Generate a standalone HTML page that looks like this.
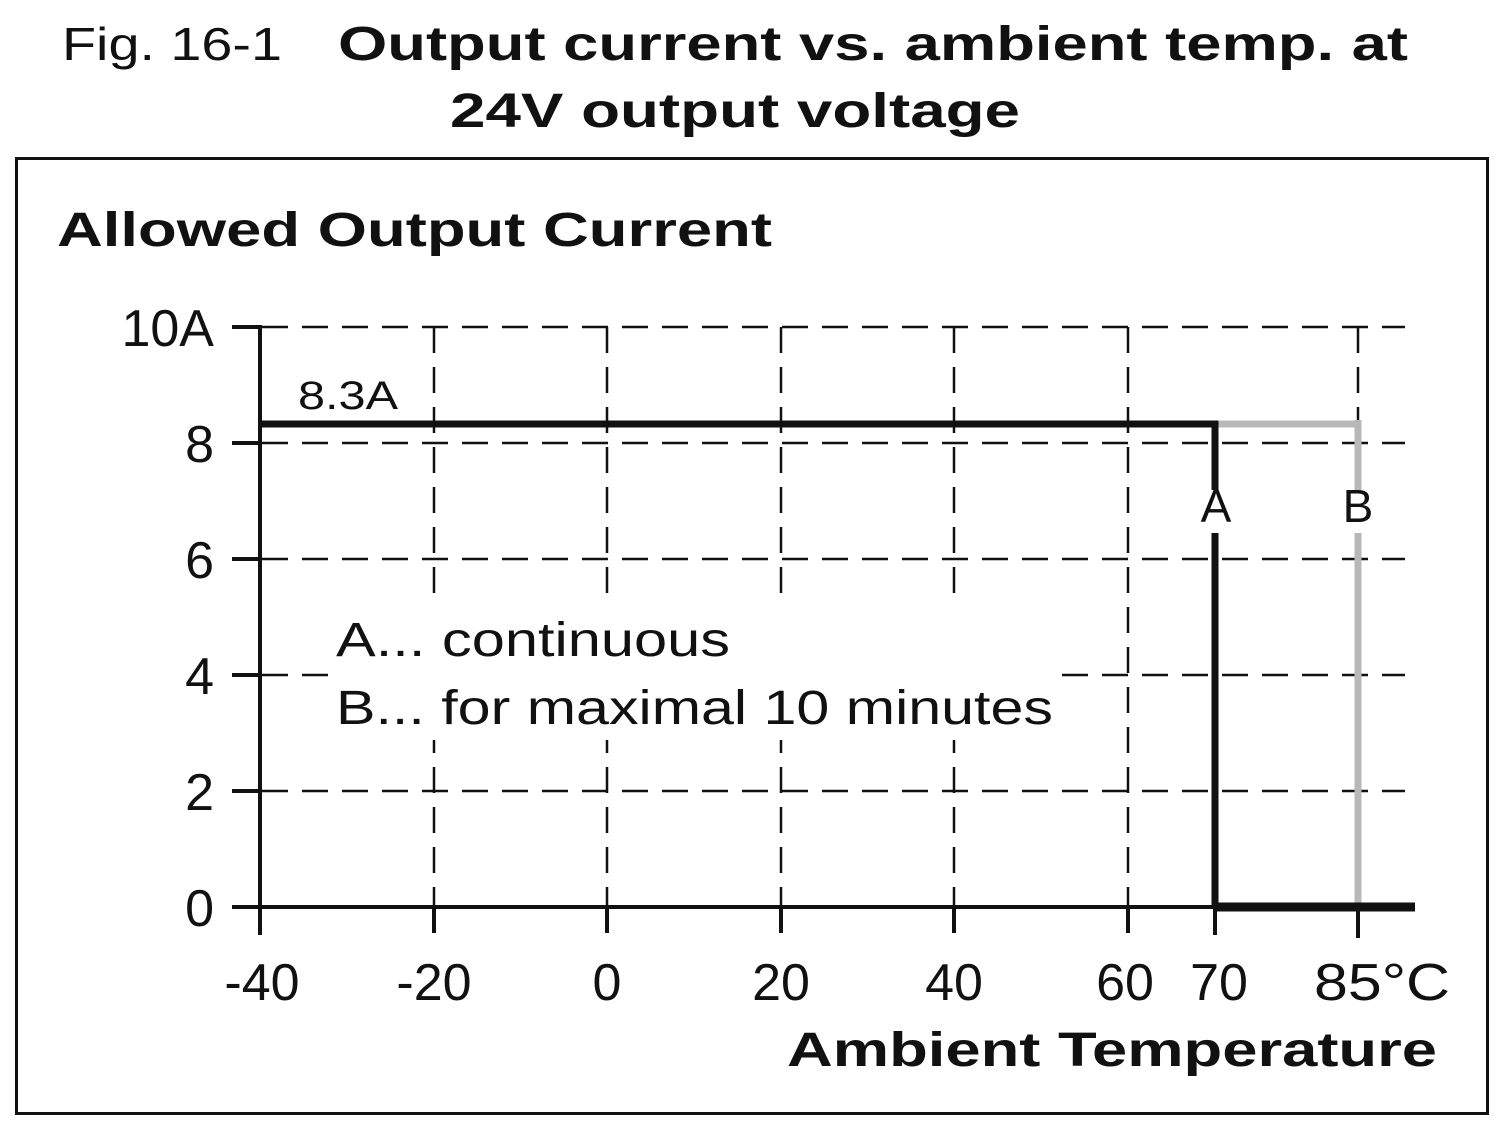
<!DOCTYPE html>
<html><head><meta charset="utf-8"><style>
html,body{margin:0;padding:0;background:#fff;}
svg{display:block;}
text{font-family:"Liberation Sans","DejaVu Sans",sans-serif;fill:#111;}
</style></head><body>
<svg width="1500" height="1125" viewBox="0 0 1500 1125" xmlns="http://www.w3.org/2000/svg">
<text x="62" y="60" font-size="46" textLength="220" lengthAdjust="spacingAndGlyphs">Fig. 16-1</text>
<text x="338" y="60" font-size="48" font-weight="bold" textLength="1070" lengthAdjust="spacingAndGlyphs">Output current vs. ambient temp. at</text>
<text x="450" y="127" font-size="48" font-weight="bold" textLength="570" lengthAdjust="spacingAndGlyphs">24V output voltage</text>
<rect x="16.5" y="158.5" width="1471" height="955" fill="none" stroke="#111" stroke-width="3"/>
<text x="57" y="246" font-size="48" font-weight="bold" textLength="715" lengthAdjust="spacingAndGlyphs">Allowed Output Current</text>
<g stroke="#111" stroke-width="2.5" stroke-dasharray="26,14" fill="none">
<line x1="262" y1="327" x2="1405" y2="327"/>
<line x1="262" y1="443" x2="1405" y2="443"/>
<line x1="262" y1="559" x2="1405" y2="559"/>
<line x1="262" y1="675" x2="1405" y2="675"/>
<line x1="262" y1="791" x2="1405" y2="791"/>
</g>
<g stroke="#111" stroke-width="2.5" stroke-dasharray="26,14" fill="none">
<line x1="434" y1="327" x2="434" y2="905"/>
<line x1="607" y1="327" x2="607" y2="905"/>
<line x1="781" y1="327" x2="781" y2="905"/>
<line x1="954" y1="327" x2="954" y2="905"/>
<line x1="1128" y1="327" x2="1128" y2="905"/>
<line x1="1358" y1="327" x2="1358" y2="420"/>
</g>
<rect x="330" y="600" width="728" height="140" fill="#fff"/>
<rect x="1192" y="480" width="48" height="52" fill="#fff"/>
<rect x="1335" y="480" width="48" height="52" fill="#fff"/>
<rect x="295" y="378" width="106" height="34" fill="#fff"/>
<g stroke="#111" stroke-width="4">
<line x1="260" y1="325" x2="260" y2="935"/>
<line x1="232" y1="327" x2="260" y2="327"/>
<line x1="232" y1="443" x2="260" y2="443"/>
<line x1="232" y1="559" x2="260" y2="559"/>
<line x1="232" y1="675" x2="260" y2="675"/>
<line x1="232" y1="791" x2="260" y2="791"/>
<line x1="232" y1="907" x2="1215" y2="907"/>
<line x1="434" y1="907" x2="434" y2="933"/>
<line x1="607" y1="907" x2="607" y2="933"/>
<line x1="781" y1="907" x2="781" y2="933"/>
<line x1="954" y1="907" x2="954" y2="933"/>
<line x1="1128" y1="907" x2="1128" y2="933"/>
<line x1="1215" y1="907" x2="1215" y2="935"/>
<line x1="1358" y1="907" x2="1358" y2="938"/>
</g>
<line x1="1215" y1="424" x2="1358" y2="424" stroke="#b8b8b8" stroke-width="7"/>
<line x1="1358" y1="420" x2="1358" y2="490" stroke="#b8b8b8" stroke-width="7"/>
<line x1="1358" y1="533" x2="1358" y2="903" stroke="#b8b8b8" stroke-width="7"/>
<line x1="260" y1="424" x2="1218" y2="424" stroke="#111" stroke-width="7"/>
<line x1="1215" y1="421" x2="1215" y2="490" stroke="#111" stroke-width="7"/>
<line x1="1215" y1="533" x2="1215" y2="907" stroke="#111" stroke-width="7"/>
<line x1="1215" y1="907" x2="1415" y2="907" stroke="#111" stroke-width="9"/>
<text x="1216" y="522" font-size="46" text-anchor="middle">A</text>
<text x="1358" y="522" font-size="46" text-anchor="middle">B</text>
<text x="298" y="409" font-size="40" textLength="100" lengthAdjust="spacingAndGlyphs">8.3A</text>
<g font-size="52" text-anchor="end">
<text x="214" y="346">10A</text>
<text x="214" y="462">8</text>
<text x="214" y="578">6</text>
<text x="214" y="694">4</text>
<text x="214" y="810">2</text>
<text x="214" y="926">0</text>
</g>
<g font-size="52" text-anchor="middle">
<text x="262" y="1000">-40</text>
<text x="434" y="1000">-20</text>
<text x="607" y="1000">0</text>
<text x="781" y="1000">20</text>
<text x="954" y="1000">40</text>
<text x="1125" y="1000">60</text>
<text x="1219" y="1000">70</text>
<text x="1382" y="1000" textLength="136" lengthAdjust="spacingAndGlyphs">85°C</text>
</g>
<text x="787" y="1066" font-size="48" font-weight="bold" textLength="650" lengthAdjust="spacingAndGlyphs">Ambient Temperature</text>
<text x="336" y="656" font-size="48" textLength="394" lengthAdjust="spacingAndGlyphs">A... continuous</text>
<text x="336" y="724" font-size="48" textLength="717" lengthAdjust="spacingAndGlyphs">B... for maximal 10 minutes</text>
</svg>
</body></html>
